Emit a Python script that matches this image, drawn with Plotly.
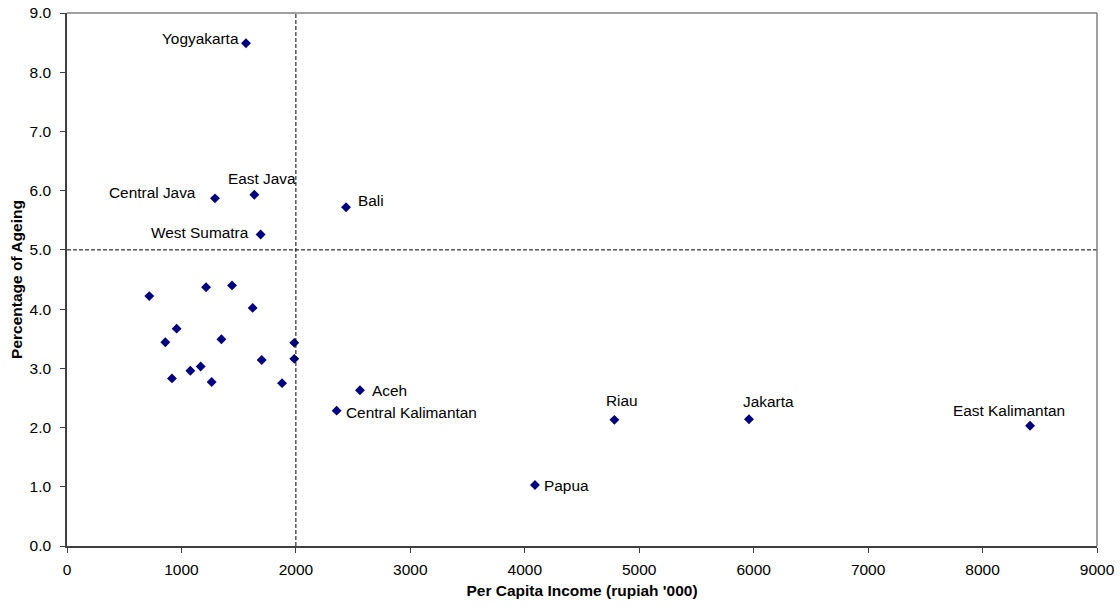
import plotly.graph_objects as go

# Unlabelled provinces
income = [719, 1215, 1442, 1622, 958, 859, 1349, 1986, 1701, 1986, 1168, 1078, 917, 1264, 1879]
ageing = [4.22, 4.37, 4.40, 4.02, 3.67, 3.44, 3.49, 3.43, 3.14, 3.16, 3.03, 2.96, 2.83, 2.77, 2.75]

# Labelled provinces
names = ["Yogyakarta", "Central Java", "East Java", "Bali", "West Sumatra", "Aceh",
         "Central Kalimantan", "Papua", "Riau", "Jakarta", "East Kalimantan"]
name_income = [1564, 1293, 1637, 2438, 1692, 2560, 2356, 4089, 4783, 5959, 8415]
name_ageing = [8.49, 5.87, 5.93, 5.72, 5.26, 2.63, 2.285, 1.03, 2.13, 2.14, 2.03]

# label placement (style only)
label_anchor = ["right", "right", "center", "left", "right", "left", "left", "left", "center", "center", "center"]
label_xshift = [-7, -19, 8, 12, -12, 12, 9, 9, 8, 20, -21]
label_yshift = [5, 6, 16, 7, 2, 0, -2, 0, 19, 18, 15]

x_ticks = list(range(0, 9001, 1000))
y_ticks = [float(i) for i in range(0, 10)]

FONT = "Liberation Sans, Arial"

fig = go.Figure()
fig.add_trace(go.Scatter(
    x=income + name_income, y=ageing + name_ageing, mode="markers",
    marker=dict(symbol="diamond", size=7.6, color="#000080"),
    showlegend=False, hoverinfo="x+y"))

for n, xv, yv, a, xs, ys in zip(names, name_income, name_ageing, label_anchor, label_xshift, label_yshift):
    fig.add_annotation(x=xv, y=yv, text=n, showarrow=False, xanchor=a, yanchor="middle",
                       xshift=xs, yshift=ys, borderpad=0, borderwidth=0,
                       font=dict(family=FONT, size=15.4, color="#000000"))

# reference lines
fig.add_shape(type="line", x0=2000, x1=2000, y0=0, y1=9, xref="x", yref="y",
              line=dict(color="#000000", width=1, dash="4px,2px"))
fig.add_shape(type="line", x0=0, x1=9000, y0=5, y1=5, xref="x", yref="y",
              line=dict(color="#000000", width=1, dash="4px,2px"))
# grey top and right frame
fig.add_shape(type="line", x0=0, x1=1, y0=1, y1=1, xref="paper", yref="paper",
              line=dict(color="#808080", width=1.5))
fig.add_shape(type="line", x0=1, x1=1, y0=0, y1=1, xref="paper", yref="paper",
              line=dict(color="#808080", width=1.5))

axis_font = dict(family=FONT, size=15.5, color="#000000")
fig.update_layout(
    width=1120, height=606,
    margin=dict(l=67, r=23, t=13, b=60, autoexpand=False),
    paper_bgcolor="white", plot_bgcolor="white",
    font=axis_font,
    xaxis=dict(range=[0, 9000], tickvals=x_ticks, showgrid=False, zeroline=False, automargin=False,
               showline=True, linecolor="#404040", linewidth=1.5, ticks="outside", ticklen=5,
               tickcolor="#404040", tickfont=axis_font, ticklabelstandoff=4,
               title=dict(text="<b>Per Capita Income (rupiah '000)</b>",
                          font=dict(family=FONT, size=15.5), standoff=8)),
    yaxis=dict(range=[0, 9], tickvals=y_ticks, tickformat=".1f", showgrid=False, zeroline=False,
               automargin=False,
               showline=True, linecolor="#404040", linewidth=1.5, ticks="outside", ticklen=5,
               tickcolor="#404040", tickfont=axis_font, ticklabelstandoff=6,
               title=dict(text="<b>Percentage of Ageing</b>",
                          font=dict(family=FONT, size=15.5), standoff=3)),
)

fig.write_html("out.html", config={"displayModeBar": False},
               post_script="document.body.style.margin='0';document.body.style.overflow='hidden';")
